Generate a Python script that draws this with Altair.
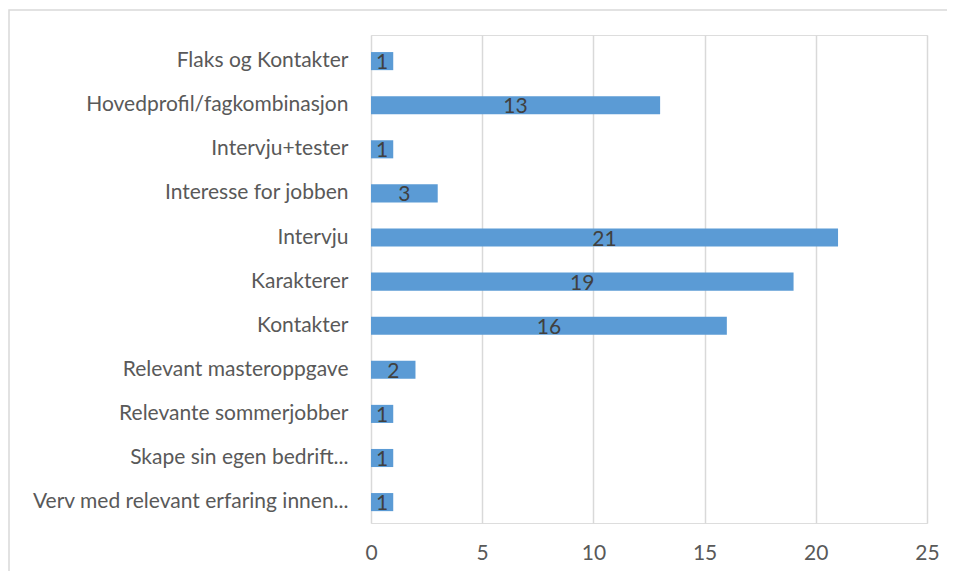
import altair as alt
import pandas as pd

categories = [
    "Flaks og Kontakter",
    "Hovedprofil/fagkombinasjon",
    "Intervju+tester",
    "Interesse for jobben",
    "Intervju",
    "Karakterer",
    "Kontakter",
    "Relevant masteroppgave",
    "Relevante sommerjobber",
    "Skape sin egen bedrift...",
    "Verv med relevant erfaring innen...",
]
values = [1, 13, 1, 3, 21, 19, 16, 2, 1, 1, 1]
x_ticks = [0, 5, 10, 15, 20, 25]

df = pd.DataFrame({"kategori": categories, "antall": values})
frame_df = pd.DataFrame({"k": [0]})

FONT = "Lato"
FS = 21
W, H = 556, 488

y_scale = alt.Scale(paddingInner=0.59, paddingOuter=0.328, align=0.59)

y_enc = alt.Y(
    "kategori:N",
    sort=categories,
    title=None,
    scale=y_scale,
    axis=alt.Axis(
        labelFont=FONT, labelFontSize=FS, labelColor="#595959",
        labelPadding=23, ticks=False, domain=False, labelLimit=400,
    ),
)
x_enc = alt.X(
    "antall:Q",
    title=None,
    scale=alt.Scale(domain=[0, 25], nice=False),
    axis=alt.Axis(
        values=x_ticks, labelFont=FONT, labelFontSize=FS, labelColor="#595959",
        labelPadding=19, labelFlush=False, ticks=False, domain=False, grid=True,
        gridColor="#d9d9d9", gridWidth=1.5,
    ),
)

frame = alt.Chart(frame_df).mark_rect(
    fill="transparent", stroke="#d9d9d9", strokeWidth=1.5
).encode(
    x=alt.value(-362), x2=alt.value(640),
    y=alt.value(-25), y2=alt.value(600),
)

bars = alt.Chart(df).mark_bar(color="#5b9bd5").encode(y=y_enc, x=x_enc)

labels = alt.Chart(df).transform_calculate(
    mid="datum.antall / 2"
).mark_text(
    font=FONT, fontSize=FS, color="#404040", align="center", baseline="middle", dy=2
).encode(
    y=alt.Y("kategori:N", sort=categories),
    x=alt.X("mid:Q"),
    text="antall:Q",
)

chart = alt.layer(frame, bars, labels).properties(
    width=W, height=H,
    autosize=alt.AutoSizeParams(type="none"),
    padding={"left": 363, "top": 27, "right": 20, "bottom": 48},
).configure_view(stroke=None).configure(background="white")

chart.save("out.html", embed_options={"renderer": "svg", "actions": False})
